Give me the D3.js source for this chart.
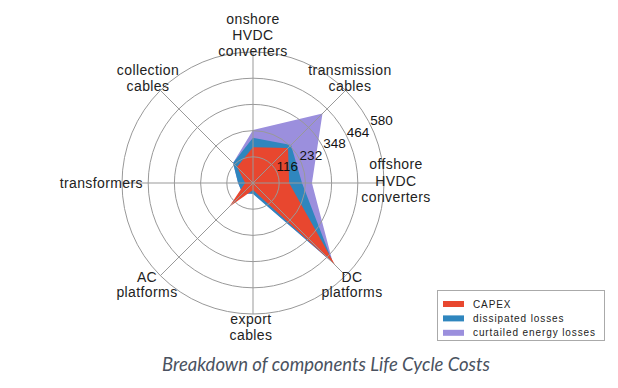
<!DOCTYPE html>
<html>
<head>
<meta charset="utf-8">
<script src="https://d3js.org/d3.v7.min.js"></script>
<style>
    body { margin: 0; background: #fff; }
    .axis-label { font: 14px "Liberation Sans", Arial, sans-serif; letter-spacing: 0.4px; fill: #222; }
    .tick-label { font: 13.5px "Liberation Sans", Arial, sans-serif; fill: #111; }
    .legend text { font: 10px "Liberation Sans", Arial, sans-serif; letter-spacing: 0.9px; fill: #222; }
    .caption { font: italic 18.5px Lato, sans-serif; fill: #4a5260; }
</style>
</head>
<body>
<script>
    // categories clockwise from the top
    var categories = ["onshore HVDC converters", "transmission cables", "offshore HVDC converters",
        "DC platforms", "export cables", "AC platforms", "transformers", "collection cables"];
    var categoryLines = [["onshore", "HVDC", "converters"], ["transmission", "cables"],
        ["offshore", "HVDC", "converters"], ["DC", "platforms"], ["export", "cables"],
        ["AC", "platforms"], ["transformers"], ["collection", "cables"]];

    var seriesNames = ["CAPEX", "dissipated losses", "curtailed energy losses"];
    var capex = [158, 219, 160, 515, 31, 150, 35, 100];
    var dissipated = [200, 238, 217, 500, 48, 66, 66, 125];
    var curtailed = [235, 435, 261, 500, 48, 66, 66, 125];
    var ticks = [116, 232, 348, 464, 580];

    var colors = ["#e8472f", "#2f86be", "#9b8fdd"];

    var width = 618, height = 388;
    var cx = 253, cy = 183, R = 131;

    var svg = d3.select("body").append("svg")
        .attr("width", width)
        .attr("height", height);

    var r = d3.scaleLinear().domain([0, 580]).range([0, R]);
    var angle = d3.scaleLinear().domain([0, categories.length]).range([0, 2 * Math.PI]);

    var g = svg.append("g").attr("transform", "translate(" + cx + "," + cy + ")");

    // series, back to front
    var line = d3.lineRadial()
        .angle(function (d, i) { return angle(i); })
        .radius(function (d) { return r(d); })
        .curve(d3.curveLinearClosed);

    var series = [curtailed, dissipated, capex];
    var seriesColors = [colors[2], colors[1], colors[0]];
    g.selectAll("path.area")
        .data(series)
        .enter().append("path")
        .attr("class", "area")
        .attr("d", line)
        .attr("fill", function (d, i) { return seriesColors[i]; });

    // grid
    g.selectAll("circle.ring")
        .data(ticks)
        .enter().append("circle")
        .attr("class", "ring")
        .attr("r", function (d) { return r(d); })
        .attr("fill", "none")
        .attr("stroke", "#999")
        .attr("stroke-width", 1);

    g.selectAll("line.spoke")
        .data(categories)
        .enter().append("line")
        .attr("class", "spoke")
        .attr("x1", 0).attr("y1", 0)
        .attr("x2", function (d, i) { return R * Math.sin(angle(i)); })
        .attr("y2", function (d, i) { return -R * Math.cos(angle(i)); })
        .attr("stroke", "#999")
        .attr("stroke-width", 1);

    // value labels
    var tickAngle = 64 * Math.PI / 180;
    g.selectAll("text.tick-label")
        .data(ticks)
        .enter().append("text")
        .attr("class", "tick-label")
        .attr("text-anchor", "middle")
        .attr("x", function (d) { return (r(d) + 12) * Math.sin(tickAngle); })
        .attr("y", function (d) { return -(r(d) + 12) * Math.cos(tickAngle) + 5; })
        .text(function (d) { return d; });

    // category labels
    var labelPos = [
        { x: 253, y: 24, anchor: "middle", dy: 16 },
        { x: 350, y: 75, anchor: "middle", dy: 16 },
        { x: 396, y: 169, anchor: "middle", dy: 16.5 },
        { x: 352, y: 282, anchor: "middle", dy: 15 },
        { x: 251, y: 324, anchor: "middle", dy: 16 },
        { x: 147, y: 282, anchor: "middle", dy: 15 },
        { x: 143, y: 188, anchor: "end", dy: 16 },
        { x: 148, y: 75, anchor: "middle", dy: 16 }
    ];

    categoryLines.forEach(function (lines, i) {
        var p = labelPos[i];
        var t = svg.append("text")
            .attr("class", "axis-label")
            .attr("text-anchor", p.anchor);
        lines.forEach(function (s, j) {
            t.append("tspan")
                .attr("x", p.x)
                .attr("y", p.y + j * p.dy)
                .text(s);
        });
    });

    // legend
    var legend = svg.append("g").attr("class", "legend");
    legend.append("rect")
        .attr("x", 437.5).attr("y", 290.5)
        .attr("width", 167).attr("height", 50)
        .attr("fill", "#fff")
        .attr("stroke", "#aaa");

    var item = legend.selectAll("g.item")
        .data(seriesNames)
        .enter().append("g")
        .attr("class", "item")
        .attr("transform", function (d, i) { return "translate(0," + (304 + i * 14.4) + ")"; });

    item.append("rect")
        .attr("x", 443).attr("y", -3)
        .attr("width", 21).attr("height", 6)
        .attr("fill", function (d, i) { return colors[i]; });

    item.append("text")
        .attr("x", 473).attr("y", 3.5)
        .text(function (d) { return d; });

    svg.append("text")
        .attr("class", "caption")
        .attr("x", 326).attr("y", 371)
        .attr("text-anchor", "middle")
        .text("Breakdown of components Life Cycle Costs");
</script>
</body>
</html>
